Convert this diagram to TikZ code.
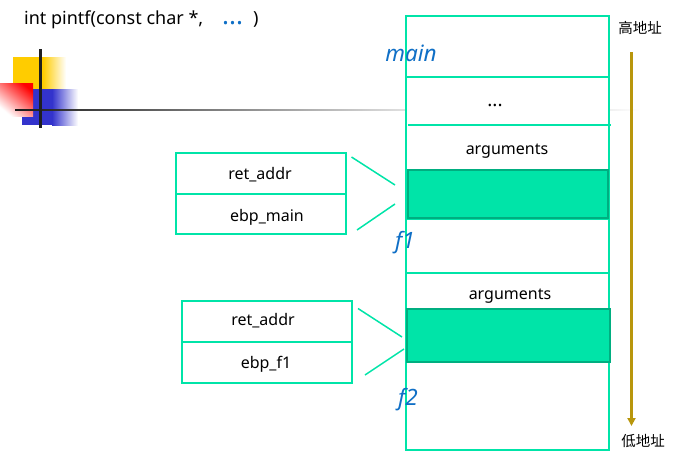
\documentclass[tikz,border=0pt]{standalone}
\usepackage{fontspec}
\setmainfont{Noto Sans}
\newfontfamily\cjk{Noto Sans CJK SC}
\usetikzlibrary{arrows.meta}
\definecolor{teal1}{HTML}{00E4A8}
\definecolor{teal2}{HTML}{00AE80}
\definecolor{goldline}{HTML}{B8960C}
\definecolor{blueword}{HTML}{0F6FC6}
\definecolor{deco1}{HTML}{FFCC00}
\definecolor{deco2}{HTML}{3333CC}
\tikzset{
  px/.style={x=1pt,y=-1pt},
  cell/.style={draw=teal1,line width=1.5pt,inner sep=0pt,anchor=north west,xshift=-.75pt,yshift=.75pt},
  filledcell/.style={draw=teal2,fill=teal1,line width=1.5pt,inner sep=0pt,anchor=north west,xshift=-.75pt,yshift=.75pt},
  link/.style={draw=teal1,line width=1.5pt},
  lbl/.style={font=\fontsize{16}{19}\selectfont,inner sep=0pt,text=black},
  frame/.style={font=\fontsize{22.5}{26}\selectfont\itshape,inner sep=0pt,text=blueword},
  addr/.style={font=\cjk\fontsize{14.5}{17}\selectfont,inner sep=0pt,text=black},
}
\begin{document}
\begin{tikzpicture}[px]
\useasboundingbox (0,0) rectangle (675,469);
% decoration
\fill[deco1] (13,57) rectangle (43,89);
\shade[left color=deco1,right color=white] (43,57) rectangle (66,89);
\fill[deco2] (22,89) rectangle (52,125);
\shade[left color=deco2,right color=white] (52,89) rectangle (78,125);
\shade[top color=red,bottom color=white,shading angle=-40] (0,83) rectangle (33,116);
\shade[left color=black!90,right color=black!12] (15,109.2) rectangle (406,110.8);
\shade[left color=black!6,right color=white] (609,109.2) rectangle (640,110.8);
\fill[black!88] (39,49) rectangle (42,128);
% stack
\node[cell,fill=white,minimum width=203pt,minimum height=434pt] (stack) at (406,16) {};
\draw[link] (stack.west |- 0,77) coordinate (a1) -- (stack.east |- 0,77) coordinate (a2);
\coordinate (b1) at (408,125);
\coordinate (b2) at (611,125);
\draw[link] (b1) -- (b2);
\draw[link] (stack.west |- 0,219) coordinate (c1) -- (stack.east |- 0,219) coordinate (c2);
\draw[link] (stack.west |- 0,273) coordinate (d1) -- (stack.east |- 0,273) coordinate (d2);
\node[filledcell,minimum width=200pt,minimum height=48pt] (g1) at (408,170) {};
\node[filledcell,minimum width=203pt,minimum height=53pt] (g2) at (407,309) {};
\node[lbl,font=\fontsize{19}{22}\selectfont] (dots) at (495,105) {...};
\node[lbl] (args1) at (507,151) {arguments};
\node[lbl] (args2) at (510,296) {arguments};
\node[frame] (main) at (411,53) {main};
\node[frame] (f1) at (405,243) {f1};
\node[frame] (f2) at (408,400) {f2};
% first box
\node[cell,minimum width=170pt,minimum height=41pt] (r1) at (176,153) {};
\node[cell,minimum width=170pt,minimum height=40pt] (e1) at (176,194) {};
\node[lbl] (r1t) at (260,175) {ret\_addr};
\node[lbl] (e1t) at (267,217) {ebp\_main};
% second box
\node[cell,minimum width=170pt,minimum height=41pt] (r2) at (182,301) {};
\node[cell,minimum width=170pt,minimum height=41pt] (e2) at (182,342) {};
\node[lbl] (r2t) at (263,321) {ret\_addr};
\node[lbl] (e2t) at (266,364) {ebp\_f1};
% connectors
\coordinate (p1) at (351.5,157); \coordinate (q1) at (395,185);
\coordinate (p2) at (357,230);   \coordinate (q2) at (395,204);
\coordinate (p3) at (358,308.5); \coordinate (q3) at (402,337);
\coordinate (p4) at (365,375);   \coordinate (q4) at (404,349);
\draw[link] (p1) -- (q1);
\draw[link] (p2) -- (q2);
\draw[link] (p3) -- (q3);
\draw[link] (p4) -- (q4);
% title
\node[lbl,anchor=west,font=\fontsize{18}{21}\selectfont] (title) at (24,20) {int pintf(const char *,\hspace{19pt}{\color{blueword}\fontsize{26}{26}\selectfont\textbf{...}}\hspace{10pt})};
% address arrow
\node[addr] (high) at (640,28) {高地址};
\node[addr] (low) at (643,441) {低地址};
\coordinate (top) at (631.5,52);
\coordinate (bot) at (631.5,426);
\draw[goldline,line width=2.5pt,-{Triangle[length=8pt,width=8pt]}] (top) -- (bot);
\end{tikzpicture}
\end{document}
